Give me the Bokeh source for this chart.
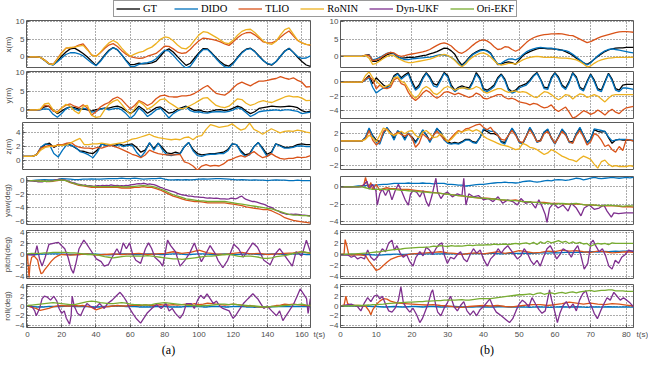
import numpy as np
from bokeh.plotting import figure
from bokeh.models import Range1d, FixedTicker, Legend, LegendItem
from bokeh.layouts import column, row
from bokeh.embed import file_html
from bokeh.resources import INLINE

# ---------------- data ----------------
NAMES = ["GT", "DIDO", "TLIO", "RoNIN", "Dyn-UKF", "Ori-EKF"]
COLORS = ["#000000", "#0072BD", "#D95319", "#EDB120", "#7E2F8E", "#77AC30"]
T_END_A = 165
T_END_B = 82
XTICKS_A = [0, 20, 40, 60, 80, 100, 120, 140, 160]
XTICKS_B = [0, 10, 20, 30, 40, 50, 60, 70, 80]
T_LABEL = "t(s)"

# (a) position, 2.5 s samples
GT_X_A = [0,0,0,-0.1,-0.9,-1.9,-2.2,-1.2,0.2,1.4,2.3,2.5,1.8,1.0,0.0,-1.2,-2.4,-1.1,0.5,1.9,2.7,2.0,0.6,-0.9,-2.2,-2.1,-1.8,-2.0,-1.9,-1.7,-1.2,0.2,1.7,2.3,1.4,0.1,-1.2,-2.4,-1.8,-0.3,1.2,2.4,2.3,1.1,-0.2,-1.4,-2.3,-2.6,-1.6,-0.1,1.3,2.2,2.5,1.6,0.3,-1.0,-2.0,-2.3,-1.3,0.2,1.7,2.5,1.3,-0.1,-1.3,-2.3,-2.7]
DIDO_X_A = [0,0,0,-0.1,-1.0,-2.0,-2.3,-1.4,-0.3,0.7,1.2,1.2,0.9,0.3,-0.7,-1.7,-2.5,-1.3,0.3,1.7,2.6,2.1,0.6,-1.1,-2.7,-2.7,-2.1,-1.8,-1.6,-1.3,-0.5,0.8,1.9,1.7,0.5,-0.9,-2.2,-3.2,-2.6,-0.9,0.9,2.1,2.1,0.9,-0.5,-1.8,-2.8,-3.1,-1.9,-0.3,1.1,2.1,2.4,1.5,0.1,-1.1,-1.9,-2.2,-1.3,0.2,1.6,2.4,1.3,0.1,-0.4,-0.3,0.3]
TLIO_X_A = [0,0,0,-0.1,-0.9,-1.9,-2.1,-0.5,1.2,2.5,2.6,2.8,3.4,3.7,2.2,0.5,0.2,1.2,2.4,3.4,3.8,3.0,1.8,0.8,0.1,-0.2,-0.4,-0.3,0.2,0.6,1.0,2.0,3.1,3.0,2.3,1.4,1.0,1.2,2.2,3.5,4.6,5.4,5.2,5.0,4.7,4.3,3.7,3.3,4.3,5.5,6.4,6.9,7.0,6.3,5.3,4.3,4.0,4.0,4.6,5.6,6.6,7.4,6.0,4.7,4.0,3.6,3.3]
RONIN_X_A = [0,0,0,-0.1,-0.9,-1.9,-2.2,-0.6,1.0,2.5,2.7,2.8,3.1,3.3,2.0,0.6,0.1,1.3,2.8,4.0,4.7,4.0,2.5,1.2,0.2,0.8,1.3,1.6,2.3,2.8,3.8,5.0,5.7,5.5,4.6,3.4,2.5,2.3,3.2,4.8,6.3,7.2,7.0,6.3,5.6,4.8,4.0,3.8,4.8,6.2,7.3,7.8,7.9,7.0,5.8,4.5,3.9,3.6,4.5,6.3,7.8,8.3,6.5,4.8,4.0,3.6,3.5]

GT_Y_A = [0,0,0,0.1,0.8,1.0,0.0,-1.0,-0.3,0.4,0.8,0.6,0.2,0.3,0.0,-0.3,0.1,0.3,0.5,0.5,0.8,1.0,0.6,-0.2,-1.0,-0.2,1.0,0.2,-0.9,-0.2,0.6,0.8,0.0,-0.9,-0.6,0.2,0.6,1.0,0.4,-0.2,0.0,-0.4,-0.6,-0.3,0.0,0.1,-0.2,0.0,0.5,1.0,0.6,-0.3,-1.0,-0.5,0.4,0.6,0.8,1.0,0.9,0.8,0.9,1.0,0.9,0.6,-0.2,-0.6,-0.3]
DIDO_Y_A = [0,0,0,0,0.3,0.2,-1.2,-2.0,-1.0,0.3,0.8,0.3,-0.2,0.5,0.2,-0.6,-0.4,0.2,0.4,0.0,0.3,0.5,0.0,-1.0,-2.3,-1.3,0.5,-0.4,-1.8,-1.0,0.0,0.5,-0.8,-2.2,-1.0,-0.3,0.2,0.8,-0.2,-0.6,-0.5,-0.8,-0.9,-0.6,-0.5,-0.5,-0.6,-0.4,0.0,0.6,0.2,-0.8,-1.8,-1.2,-0.5,-0.3,-0.2,-0.1,0.0,-0.2,0.0,0.0,-0.2,-0.4,-1.0,-0.8,-0.6]
TLIO_Y_A = [0,0,0,0.1,1.2,1.0,-0.3,-0.5,0.5,1.3,1.6,1.0,0.6,1.4,0.5,-1.4,-0.5,0.8,1.5,2.0,3.0,3.5,2.8,1.5,0.3,1.2,2.5,2.0,1.2,1.8,3.0,3.8,4.0,3.6,3.5,3.5,3.8,3.8,4.0,4.5,5.2,6.0,6.6,5.5,4.5,4.2,4.0,4.8,6.0,7.0,7.5,7.0,6.5,7.2,7.8,7.8,8.0,8.3,8.5,9.0,8.6,8.3,8.7,8.0,7.5,6.2,6.3]
RONIN_Y_A = [0,0,0,0.2,1.6,1.8,0.0,-0.8,0.5,1.5,1.0,-0.3,-1.0,1.0,1.2,-1.5,-2.0,-1.8,0.0,1.5,2.3,2.8,1.5,0.0,-1.2,0.3,2.3,1.5,0.2,0.8,1.8,2.8,3.0,2.0,1.3,0.5,0.3,0.6,1.2,1.8,2.5,3.2,3.3,2.2,1.2,0.8,0.6,1.0,2.0,3.0,2.8,1.8,1.2,1.6,2.2,2.5,2.2,2.0,2.5,3.0,3.5,3.8,3.5,3.6,3.2,2.5,2.6]

GT_Z_A = [0.6,0.6,0.6,0.8,1.8,2.3,2.5,1.9,2.3,2.2,2.4,2.2,1.8,1.4,1.3,1.1,1.0,1.5,2.4,2.2,2.3,2.2,2.4,2.2,2.3,2.4,1.9,1.2,1.5,2.5,1.7,2.5,1.8,1.1,1.0,1.2,1.0,2.0,2.6,1.6,1.0,0.8,0.9,1.0,1.0,1.1,1.2,1.6,2.4,2.3,1.4,0.8,1.0,2.0,2.6,1.8,0.9,1.2,2.4,2.2,1.9,1.9,2.0,2.3,2.4,2.3,2.3]
DIDO_Z_A = [0.6,0.6,0.6,0.8,1.9,2.4,2.3,1.0,0.5,1.5,2.3,2.2,1.9,1.3,1.1,0.8,0.4,1.2,2.4,2.1,2.3,2.0,2.3,2.0,2.2,2.2,1.2,0.5,1.3,2.6,1.5,2.5,1.5,0.8,0.7,0.9,0.9,2.0,2.6,1.4,0.7,0.6,0.8,0.9,0.9,1.0,1.0,1.4,2.4,2.3,1.2,0.6,0.8,2.0,2.6,1.6,0.6,1.0,2.4,2.1,1.8,1.8,1.9,2.1,2.1,2.0,2.0]
TLIO_Z_A = [0.6,0.6,0.6,0.8,1.8,2.0,2.2,2.0,2.3,2.3,2.5,2.6,2.1,1.9,1.8,1.8,1.7,1.9,1.8,2.0,2.2,2.0,1.8,1.5,1.2,0.9,0.7,0.4,0.8,1.5,1.2,1.0,0.9,0.8,0.8,0.8,0.9,-0.2,-0.4,-0.8,-1.4,-0.8,-0.6,-0.8,-0.7,-0.8,-0.5,0.0,0.2,0.5,0.7,0.5,0.9,1.3,0.8,0.4,0.6,1.0,0.6,0.3,0.2,0.3,0.3,0.5,0.4,0.5,0.7]
RONIN_Z_A = [0.6,0.6,0.6,0.8,1.5,1.9,2.0,2.1,2.2,2.2,2.3,2.6,2.9,3.2,2.3,2.3,2.4,2.4,2.5,2.4,2.3,2.4,2.5,2.6,2.8,3.1,3.2,3.4,3.6,3.8,3.5,3.3,3.2,3.1,3.0,3.1,3.0,3.3,3.4,3.0,3.5,3.6,4.5,5.2,5.0,4.8,4.9,5.0,5.3,4.8,4.4,4.6,5.4,4.5,4.2,3.8,4.2,4.6,4.3,4.0,4.2,4.3,4.2,4.4,4.3,4.1,4.0]

# (a) orientation
DIDO_YAW_A = [0,0,0.05,0.1,0.15,0.1,0.1,0.15,0.3,0.25,0.2,0.15,0.15,0.2,0.2,0.25,0.2,0.2,0.25,0.3,0.3,0.3,0.35,0.3,0.3,0.35,0.3,0.2,0.25,0.3,0.3,0.35,0.2,0.1,0.1,0.15,0.1,0.15,0.1,0.15,0.2,0.25,0.2,0.25,0.3,0.3,0.25,0.2,0.15,0.1,0.15,0.1,0.05,0.1,0.05,0.05,0.0,0.05,0.1,0.05,0.05,0.0,0.0,0.05,0.0,0.0,0.0]
TLIO_YAW_A = [0,0,-0.05,-0.1,-0.1,-0.15,-0.1,0.0,0.1,0.0,-0.3,-0.5,-0.7,-0.8,-0.9,-1.0,-1.0,-1.0,-1.0,-1.0,-1.0,-1.0,-1.1,-1.1,-1.1,-1.0,-1.0,-0.9,-1.0,-1.0,-1.2,-1.4,-1.7,-2.0,-2.3,-2.5,-2.7,-2.9,-3.0,-3.1,-3.1,-3.2,-3.3,-3.3,-3.3,-3.3,-3.3,-3.4,-3.5,-3.6,-3.7,-3.9,-4.0,-4.1,-4.2,-4.3,-4.3,-4.5,-4.8,-5.1,-5.5,-5.7,-5.9,-6.0,-6.1,-6.2,-6.3]
UKF_YAW_A = [0,0,-0.05,-0.1,-0.1,-0.2,-0.15,-0.2,-0.1,-0.15,-0.1,-0.05,
             0.0,0.1,0.15,0.2,0.15,0.1,0.05,-0.1,-0.2,-0.3,-0.35,-0.5,
             -0.55,-0.6,-0.7,-0.65,-0.8,-0.75,-0.8,-0.85,-0.8,-0.75,-0.8,-0.7,
             -0.75,-0.7,-0.75,-0.65,-0.7,-0.75,-0.7,-0.8,-0.75,-0.8,-0.7,-0.75,
             -0.65,-0.6,-0.55,-0.5,-0.45,-0.5,-0.4,-0.45,-0.55,-0.5,-0.55,-0.6,
             -0.7,-0.85,-1.0,-1.1,-1.25,-1.35,-1.45,-1.55,-1.65,-1.75,-1.9,-2.0,
             -2.1,-2.15,-2.2,-2.3,-2.3,-2.35,-2.4,-2.4,-2.45,-2.5,-2.5,-2.55,
             -2.6,-2.55,-2.6,-2.65,-2.6,-2.65,-2.7,-2.7,-2.7,-2.75,-2.7,-2.6,
             -2.65,-2.7,-2.6,-2.4,-2.3,-2.6,-2.8,-2.9,-3.0,-3.1,-3.1,-3.2,
             -3.3,-3.4,-3.5,-3.6,-3.8,-3.9,-4.0,-4.2,-4.4,-4.5,-4.7,-4.8,
             -4.9,-5.0,-5.0,-4.95,-5.0,-4.95,-5.0,-5.05,-5.1,-5.1,-5.15,-5.2,-5.2]
EKF_YAW_A = [0,0,-0.05,-0.1,-0.1,-0.1,-0.05,0.05,0.1,0.0,-0.25,-0.45,-0.6,-0.7,-0.8,-0.85,-0.9,-0.9,-0.9,-0.9,-0.9,-0.85,-0.9,-0.95,-0.9,-0.85,-0.8,-0.75,-0.8,-0.85,-1.0,-1.25,-1.5,-1.8,-2.1,-2.3,-2.5,-2.7,-2.8,-2.9,-3.0,-3.0,-3.1,-3.1,-3.1,-3.1,-3.1,-3.2,-3.3,-3.4,-3.5,-3.6,-3.7,-3.8,-3.9,-4.0,-4.1,-4.2,-4.4,-4.6,-4.8,-5.0,-5.1,-5.1,-5.2,-5.2,-5.3]

DIDO_PITCH_A = [0,0,0,0.05,0.05,0.1,0.1,0.1,0.05,0.05,0.0,0.0,0.0,0.05,0.1,0.1,0.05,0.0,0.0,-0.05,0.0,0.05,0.1,0.1,0.05,0.0,0.0,0.05,0.1,0.1,0.05,0.0,0.0,0.05,0.1,0.1,0.05,0.0,0.0,0.05,0.1,0.1,0.05,0.0,0.0,0.05,0.1,0.05,0.0,0.0,0.05,0.1,0.1,0.05,0.0,0.0,0.05,0.1,0.1,0.05,0.0,0.05,0.1,0.1,0.05,0.0,0.0]
TLIO_PITCH_A_T = [0,0.5,1.0,1.5,2.5,4,6,7,8,9,10,12,14,16,18,20,25,30,35,40,45,50,55,60,65,70,75,80,85,90,95,100,105,110,115,120,125,130,135,140,145,150,155,160,165]
TLIO_PITCH_A = [0,-2.0,-4.2,-2.0,-0.5,-0.3,-1.0,-2.5,-3.5,-3.3,-2.8,-2.0,-1.2,-0.6,-0.2,0.0,-0.1,0.0,0.1,-0.1,0.0,0.1,0.0,0.1,0.2,0.0,0.1,0.2,0.5,0.2,0.4,0.8,0.3,0.1,0.0,0.2,0.4,0.1,0.2,0.0,0.1,0.2,0.3,0.5,0.2]
UKF_PITCH_A_T = [0,4.3,5.6,7.1,8.6,10.4,12.6,16.3,18.1,20.0,21.8,23.7,25.5,26.8,28.3,30.1,32.9,34.7,37.5,40.2,43.0,44.8,47.2,49.4,52.2,54.0,55.9,57.7,59.6,61.4,63.2,66.0,68.8,70.6,72.5,74.3,77.1,78.9,81.7,83.5,86.3,89.0,91.8,94.6,97.3,99.2,101.4,103.8,106.5,109.3,111.1,113.9,116.7,120.3,123.1,125.8,128.6,131.4,134.1,137.8,141.5,144.2,147.0,150.7,154.4,156.6,159.9,162.6,164.9]
UKF_PITCH_A = [0,-0.1,1.6,-0.8,-2.1,-0.5,1.85,2.1,2.2,1.6,1.05,-0.5,-2.6,-3.4,-1.6,1.05,2.6,1.85,0.5,-0.8,-1.3,-2.1,-1.85,-0.5,1.05,0,2.1,1.05,2.1,0,-1.05,-1.6,1.05,2.1,1.05,-0.5,-1.3,-2.1,2.6,1.6,0.5,-2.1,-1.05,0.25,2.1,0.5,-1.3,0,1.6,0.25,-1.05,-2.4,-1.05,1.85,1.05,-0.5,0.8,2.1,1.3,-1.05,-1.85,0,1.05,-0.5,-2.1,0.5,-0.25,2.6,0.5]
EKF_PITCH_A = [0.1,0.2,0.2,0.2,0.3,0.3,0.4,0.4,0.4,0.4,0.3,0.3,0.2,0.1,0.0,0.0,0.0,-0.2,-0.4,-0.5,-0.6,-0.5,-0.4,-0.3,-0.3,-0.3,-0.3,-0.3,-0.2,-0.3,-0.4,-0.5,-0.6,-0.7,-0.8,-0.8,-0.9,-0.8,-0.7,-0.6,-0.5,-0.4,-0.3,-0.3,-0.2,-0.1,0.0,0.0,-0.1,-0.3,-0.4,-0.3,-0.3,-0.4,-0.5,-0.7,-0.7,-0.6,-0.4,-0.3,-0.2,0.0,0.2,0.3,0.5,0.4,0.3]

DIDO_ROLL_A = [0,-0.1,-0.2,-0.2,-0.2,-0.1,-0.1,-0.1,-0.1,0.0,0.0,-0.1,-0.1,-0.1,-0.1,-0.2,-0.2,-0.2,-0.1,-0.1,0.0,0.0,0.0,-0.1,-0.1,-0.1,-0.2,-0.2,-0.2,-0.2,-0.1,-0.1,-0.1,-0.2,-0.2,-0.2,-0.2,-0.1,-0.1,-0.1,-0.1,-0.2,-0.2,-0.1,-0.1,-0.1,-0.2,-0.2,-0.1,-0.1,-0.1,-0.2,-0.2,-0.3,-0.2,-0.2,-0.3,-0.2,-0.1,-0.1,-0.1,-0.1,-0.1,-0.1,-0.1,-0.1,-0.1]
TLIO_ROLL_A = [0,-0.3,-0.5,-0.9,-0.7,-0.5,-0.2,0.0,0.1,0.0,0.0,0.1,0.0,0.1,-0.1,-0.3,-0.8,-0.5,-0.2,-0.1,0.0,0.1,0.0,0.0,0.1,0.2,0.1,0.2,0.2,0.1,0.2,0.3,0.2,0.2,0.3,0.2,0.3,0.4,0.3,0.5,0.3,0.4,0.6,0.5,0.4,0.3,0.2,0.3,0.4,0.3,0.2,0.0,0.1,-0.1,-0.2,-0.3,-0.3,-0.1,0.1,0.2,0.4,0.3,0.4,0.3,0.2,0.1,0.0]
UKF_ROLL_A_T = [0.1,2.5,4.3,5.2,7.1,8.6,9.9,11.7,13.5,15.4,17.2,18.5,20.0,21.5,22.7,24.6,25.5,26.1,27.3,29.2,31.0,32.9,34.7,36.6,39.3,42.1,44.8,46.7,49.4,52.2,54.0,55.9,57.7,59.6,61.4,63.3,66.0,67.9,69.7,72.5,75.2,78.0,80.8,82.6,84.4,86.3,89.0,90.9,92.7,95.5,97.3,99.2,101.0,102.9,104.7,106.5,108.4,110.2,112.1,113.9,117.6,119.8,121.3,123.1,125.9,128.6,131.4,134.2,136.0,137.8,139.7,142.4,145.2,147.0,148.9,150.7,152.6,155.3,157.2,159.0,160.9,162.7,163.6,164.9]
UKF_ROLL_A = [0,0,-1.0,-2.0,-0.5,1.5,2.0,1.8,1.2,2.0,1.0,-0.5,-1.5,-1.0,-2.5,-3.7,-2.0,2.0,0,-1.5,-2.0,-0.5,0.5,0,-0.5,0.5,-0.5,0.5,1.2,2.2,2.8,2.0,1.0,-0.5,-1.5,-2.5,-3.5,-2.5,-1.5,-0.5,0.3,-0.5,0.5,-1.0,-0.5,-1.5,-2.5,-1.5,0.5,0.5,-0.5,1.2,2.2,1.5,2.5,1.5,0.5,1.0,0,-0.5,-1.0,-2.5,-2.0,-1.0,0.5,1.5,2.5,1.5,0.5,-0.5,0,-1.0,-2.0,-1.0,-3.0,-2.0,-1.0,0.5,2.0,3.5,2.5,1.5,-1.5,1.5]
EKF_ROLL_A = [0.1,0.2,0.3,0.4,0.5,0.6,0.7,0.6,0.5,0.4,0.3,0.3,0.5,0.7,0.9,1.0,0.9,0.7,0.6,0.5,0.5,0.6,0.7,0.6,0.4,0.3,0.3,0.2,0.2,0.3,0.5,0.6,0.7,0.6,0.5,0.4,0.3,0.2,0.1,0.1,0.0,0.1,0.1,0.2,0.3,0.4,0.4,0.3,0.4,0.3,0.2,0.1,0.0,0.0,-0.1,-0.2,-0.2,-0.1,-0.1,0.0,0.1,0.2,0.3,0.3,0.4,0.2,0.1]

# (b) position, 1 s samples
GT_X_B = [0,0,0,0,0,0,0,0.3,0.5,-1.4,-1.4,-1.0,-0.2,0.5,0.8,0.8,-0.2,-0.5,-0.4,-0.3,-0.3,-0.2,0.0,0.2,0.4,0.7,1.0,1.4,1.9,2.4,2.3,1.6,0.6,-1.2,-2.5,-1.5,-0.3,0.7,1.3,1.8,2.0,1.7,1.0,-0.8,-2.4,-2.2,-1.8,-1.6,-1.8,-2.3,-1.0,0.2,0.9,1.4,1.8,2.2,2.4,2.3,2.2,2.2,2.1,2.0,1.8,1.4,0.9,0.3,-0.5,-1.2,-1.9,-2.3,-1.7,-0.8,0.0,0.7,1.4,1.9,2.2,2.4,2.5,2.5,2.6,2.6,2.6]
DIDO_X_B = [0,0,0,0,0,0,0,0.3,0.4,-1.0,-0.7,-0.3,0.3,0.9,1.2,0.8,0.0,-0.6,-0.9,-0.9,-0.7,-0.6,-0.5,-0.4,-0.3,-0.2,0.0,0.3,0.5,0.4,0.2,-0.3,-1.0,-2.0,-2.8,-1.8,-0.5,0.5,1.1,1.6,1.8,1.5,0.8,-0.8,-2.2,-2.0,-1.3,-0.8,-0.7,-1.0,-0.5,0.5,1.3,1.8,2.2,2.5,2.6,2.5,2.4,2.4,2.2,1.9,1.8,1.7,1.3,0.6,-0.2,-1.0,-1.8,-2.5,-1.9,-0.8,0.2,1.0,1.6,2.0,2.2,2.0,1.8,1.6,1.4,1.2,1.0]
TLIO_X_B = [0,0,0,0,0,0,0,0.4,0.3,-1.2,-1.0,-0.6,0.2,0.8,1.2,1.0,0.3,0.0,0.2,0.5,0.7,0.9,1.1,1.3,1.6,2.0,2.6,3.2,3.7,3.9,3.6,3.0,2.0,1.2,0.9,1.5,2.3,3.2,4.0,4.6,4.8,4.5,3.8,2.8,2.0,2.2,2.8,2.7,2.0,1.5,2.0,3.0,4.0,4.8,5.4,5.8,6.1,6.3,6.4,6.5,6.5,6.6,6.5,6.3,6.1,6.0,5.5,5.0,4.5,4.0,4.3,4.8,5.3,5.7,6.0,6.3,6.6,6.9,7.1,7.2,7.2,7.1,7.0]
RONIN_X_B = [0,0,0,0,0,0,0,0.3,-0.5,-2.3,-2.0,-1.3,-0.6,0.0,0.4,0.2,-0.5,-1.0,-1.5,-1.8,-1.8,-1.6,-1.4,-1.2,-1.0,-0.8,-0.4,0.0,0.4,0.6,0.3,-0.3,-1.2,-2.3,-3.0,-2.2,-1.0,-0.2,0.4,0.9,1.0,0.6,-0.2,-1.2,-2.2,-2.5,-2.3,-2.0,-2.0,-2.2,-1.6,-1.0,-0.6,-0.3,-0.1,0.0,-0.1,-0.3,-0.3,-0.2,-0.3,-0.4,-0.5,-0.5,-0.6,-0.8,-1.0,-1.5,-2.2,-3.0,-2.8,-2.0,-1.4,-1.0,-0.7,-0.5,-0.4,-0.3,-0.3,-0.3,-0.3,-0.2,-0.3]

GT_Y_B = [-0.1,-0.1,-0.1,-0.1,-0.1,-0.1,-0.1,0.3,0.8,-0.3,0.5,0.0,-0.5,-0.8,-0.3,0.8,1.1,0.5,0.9,1.2,0.0,-1.0,-0.5,0.5,1.2,0.6,-0.3,-0.5,0.3,1.2,0.8,-0.5,-1.2,-0.8,-0.6,-0.8,-0.9,0.0,1.2,0.5,-1.0,-1.2,-0.9,-0.5,0.5,1.0,0.3,-1.0,-1.4,-1.2,-0.7,-0.5,-0.3,0.2,0.8,1.2,0.3,-0.8,-0.9,0.5,1.2,0.6,-0.5,-0.9,0.0,1.2,0.6,-0.8,-1.1,0.0,1.0,0.2,-1.0,-1.2,0.0,1.1,0.3,-1.0,-1.2,-0.5,-0.4,-0.4,-0.4]
DIDO_Y_B = [-0.1,-0.1,-0.1,-0.1,-0.1,-0.1,-0.1,0.2,0.5,-0.8,-1.6,-1.2,-0.9,-0.9,-0.5,0.6,1.0,0.3,0.7,1.0,-0.3,-1.2,-0.8,0.3,1.1,0.4,-0.6,-0.8,0.1,1.1,0.6,-0.8,-1.4,-1.0,-0.8,-1.0,-1.1,-0.2,1.0,0.3,-1.2,-1.4,-1.1,-0.7,0.3,0.9,0.1,-1.2,-1.6,-1.4,-0.9,-0.7,-0.5,0.0,0.7,1.1,0.2,-1.0,-1.1,0.3,1.1,0.4,-0.7,-1.1,-0.2,1.1,0.4,-1.0,-1.3,-0.2,0.9,0.0,-1.2,-1.4,-0.2,1.0,0.1,-1.2,-1.4,-0.9,-0.9,-1.0,-1.1]
TLIO_Y_B = [-0.1,-0.1,-0.1,-0.1,-0.1,-0.1,-0.1,0.3,0.6,0.3,-1.0,-0.5,-0.9,-1.0,-0.8,0.2,0.5,-0.3,-0.5,-1.5,-2.2,-2.6,-2.2,-1.6,-1.2,-1.5,-2.0,-2.3,-2.0,-1.5,-1.4,-1.6,-1.8,-1.6,-1.8,-2.0,-2.2,-2.0,-1.6,-1.8,-2.3,-2.4,-2.2,-2.0,-1.8,-1.8,-2.2,-2.4,-2.3,-2.5,-2.8,-2.9,-3.0,-3.2,-3.0,-3.1,-3.4,-3.6,-3.5,-3.2,-3.8,-4.1,-3.8,-3.5,-4.2,-5.0,-4.8,-4.4,-4.0,-4.2,-4.5,-4.3,-3.9,-4.2,-4.6,-4.1,-3.8,-4.2,-4.4,-3.9,-3.6,-3.5,-3.4]
RONIN_Y_B = [-0.1,-0.1,-0.1,-0.1,-0.1,-0.1,-0.1,0.8,1.3,0.5,0.0,-0.4,-0.8,-0.6,-0.4,0.5,0.6,0.0,-0.2,-1.0,-1.8,-2.3,-1.8,-1.0,-0.7,-1.0,-1.6,-1.8,-1.4,-0.9,-0.7,-0.9,-1.2,-1.0,-0.9,-0.9,-1.1,-1.0,-0.7,-0.9,-1.4,-1.6,-1.4,-1.2,-1.0,-1.0,-1.3,-1.5,-1.4,-1.3,-1.5,-1.4,-1.5,-1.8,-2.1,-2.2,-1.8,-1.4,-1.5,-1.8,-2.2,-2.5,-2.2,-1.8,-1.9,-2.4,-2.0,-1.7,-1.8,-2.2,-2.0,-1.8,-2.0,-2.4,-2.8,-2.3,-1.9,-1.8,-1.8,-1.8,-1.8,-1.8,-1.8]

GT_Z_B = [1.1,1.1,1.1,1.1,1.1,1.1,1.1,1.5,2.6,1.8,1.2,1.0,2.0,2.7,2.2,1.4,2.3,2.1,1.4,2.0,1.6,1.0,1.6,2.4,1.9,1.1,1.8,2.6,2.2,1.4,1.0,0.8,0.9,0.8,1.0,1.3,1.3,1.0,0.9,1.5,2.5,2.3,2.0,2.0,1.8,1.0,0.9,1.8,2.6,2.0,1.0,0.8,1.7,2.7,2.0,1.0,1.2,2.2,2.5,1.5,0.8,1.6,2.5,2.0,1.0,1.0,2.0,2.7,1.8,0.9,1.3,2.5,2.3,2.2,2.3,1.5,0.8,1.2,1.3,1.2,1.2,1.2,1.1]
DIDO_Z_B = [1.1,1.1,1.1,1.1,1.1,1.1,1.1,1.6,2.7,1.7,0.9,0.7,2.0,2.8,2.1,1.2,2.4,2.0,1.2,2.1,1.4,0.8,1.6,2.5,1.8,0.9,1.8,2.7,2.1,1.2,0.8,0.7,0.8,0.7,0.9,1.2,1.2,0.9,0.8,1.5,2.6,2.5,2.3,2.3,1.9,0.9,0.7,1.8,2.7,2.0,0.9,0.7,1.7,2.8,2.0,0.9,1.1,2.2,2.6,1.4,0.7,1.6,2.6,2.0,0.9,0.9,2.0,2.8,1.8,0.8,1.3,2.6,2.5,2.4,2.3,1.6,1.1,1.2,1.3,1.3,1.3,1.2,1.2]
TLIO_Z_B = [1.1,1.1,1.1,1.1,1.1,1.1,1.1,1.4,2.4,1.2,0.6,1.0,2.3,2.6,2.0,1.8,2.2,1.9,1.7,2.0,1.5,0.3,0.8,2.0,1.6,1.2,1.8,2.3,1.8,1.3,1.0,1.5,2.0,2.4,2.2,2.6,2.7,2.9,3.1,3.2,2.8,2.5,2.8,2.2,1.8,1.3,1.2,1.8,2.4,1.8,1.0,0.9,1.7,2.5,1.8,1.0,1.1,2.0,2.3,1.5,0.8,1.5,2.3,1.8,1.0,0.8,1.8,2.4,1.6,0.6,1.0,2.0,1.8,1.2,0.4,0.6,0.0,-0.3,0.4,-0.1,1.3,1.2,1.1]
RONIN_Z_B = [1.1,1.1,1.1,1.1,1.1,1.1,1.1,1.3,1.8,1.5,1.0,1.8,2.7,2.5,2.0,1.8,2.0,2.3,2.0,2.3,2.4,1.8,1.5,2.2,2.4,2.0,1.5,1.6,2.0,1.6,1.0,1.3,1.8,2.3,2.2,2.4,2.5,2.3,2.5,2.3,1.7,1.4,1.2,1.0,0.8,0.6,0.5,0.4,0.2,0.0,0.1,0.8,0.6,0.3,0.2,0.0,-0.3,-0.6,-0.4,0.0,-0.2,-0.5,-0.8,-1.0,-1.2,-1.3,-1.5,-1.1,-0.8,-1.0,-1.2,-1.8,-2.3,-1.5,-1.3,-1.8,-2.1,-2.0,-2.1,-2.1,-2.1,-2.0,-2.1]

# (b) orientation
DIDO_YAW_B = [0,0,0,0,0.05,0.1,0.1,0.15,0.2,0.2,0.2,0.25,0.3,0.3,0.35,0.4,0.4,0.4,0.4,0.45,0.4,0.4,0.4,0.45,0.4,0.4,0.35,0.4,0.4,0.4,0.3,0.3,0.25,0.2,0.2,0.1,0.15,0.2,0.25,0.3,0.3,0.35,0.4,0.45,0.5,0.5,0.55,0.5,0.5,0.45,0.5,0.6,0.65,0.7,0.6,0.55,0.6,0.7,0.75,0.7,0.8,0.85,0.8,0.75,0.8,0.9,1.0,0.95,0.8,0.9,1.0,1.1,1.0,0.95,1.0,1.05,1.1,1.05,1.0,1.05,1.1,1.05,1.1]
TLIO_YAW_B_T = [0,5,6.5,7,7.5,8,8.5,9,10,11,12,13,14,15,17,19,21,23,25,27,29,31,33,35,37,39,41,43,45,47,49,51,53,55,57,59,61,63,65,67,69,71,73,75,77,79,81,82]
TLIO_YAW_B = [0,0,0.2,1.1,0.3,0.0,0.5,-0.3,0.3,-0.4,-0.2,-0.1,-0.2,-0.2,-0.3,-0.3,-0.4,-0.5,-0.6,-0.7,-0.8,-0.9,-1.0,-1.1,-1.2,-1.3,-1.3,-1.4,-1.5,-1.6,-1.5,-1.7,-1.8,-1.8,-1.8,-1.9,-1.9,-2.0,-2.0,-2.0,-2.1,-2.1,-2.2,-2.2,-2.2,-2.3,-2.3,-2.35]
UKF_YAW_B_T = [0,5.7,6.7,7.4,8,8.9,9.9,10.3,11,11.7,12.6,13.5,14.4,15.3,16.2,17.2,18.1,19,19.6,20.3,21.3,22.2,23.1,24,24.7,25.6,26.7,27.2,28.1,29,29.9,31.3,32.7,34,34.5,35.1,35.9,37.2,38.6,40,41.3,42.7,44.1,45.4,46.8,48.2,49.5,50.5,51.8,53.2,54.6,55.5,56.4,57.3,57.8,58.5,59.6,60.9,62.3,63.7,64.6,66,67.3,68.2,69.6,71,72.4,73.7,74.6,75.8,76.5,77.8,79.7,82]
UKF_YAW_B = [0,0,0.3,0.65,-0.25,0.3,-0.45,-2.1,-0.8,-0.25,-1.0,-0.25,-1.5,-0.45,0.3,-0.6,-1.5,-2.1,-0.8,-0.45,-0.6,-1.15,-0.45,-1.7,-2.25,-1.0,1.0,-0.6,-1.35,-0.8,-0.6,-1.15,-0.8,-1.0,1.0,-2.1,-0.8,-1.15,-1.0,-1.5,-1.35,-1.7,-1.15,-1.9,-1.5,-1.7,-2.1,-1.35,-1.9,-1.7,-2.45,-1.5,-2.25,-3.2,-4.1,-2.45,-1.9,-2.45,-2.1,-2.8,-1.9,-2.45,-3.35,-2.45,-2.1,-2.6,-2.45,-2.1,-2.8,-3.5,-3.0,-3.1,-3.0,-3.0]
EKF_YAW_B = [0,0,0,0,0,0,0,-0.1,-0.2,-0.3,-0.3,-0.25,-0.3,-0.35,-0.3,-0.3,-0.35,-0.4,-0.4,-0.45,-0.5,-0.5,-0.55,-0.6,-0.6,-0.65,-0.7,-0.7,-0.75,-0.8,-0.85,-0.9,-0.95,-1.0,-1.0,-1.1,-1.15,-1.2,-1.25,-1.3,-1.3,-1.35,-1.4,-1.4,-1.45,-1.5,-1.5,-1.55,-1.6,-1.6,-1.65,-1.7,-1.7,-1.75,-1.8,-1.8,-1.85,-1.9,-1.9,-1.95,-2.0,-1.95,-1.9,-1.95,-2.0,-1.95,-1.9,-2.0,-2.05,-2.1,-2.05,-2.1,-2.15,-2.2,-2.15,-2.1,-2.15,-2.2,-2.2,-2.25,-2.2,-2.2,-2.2]

DIDO_PITCH_B = [0,0,0,0,0,0,0,0,0,-0.05,-0.1,-0.1,-0.05,0,0,0.05,0.05,0,0,0.05,0.1,0.1,0.05,0.05,0.1,0.1,0.05,0.1,0.1,0.15,0.1,0.1,0.15,0.1,0.05,0.1,0.1,0.15,0.2,0.15,0.1,0.15,0.2,0.2,0.15,0.1,0.15,0.2,0.25,0.2,0.2,0.25,0.2,0.15,0.2,0.25,0.3,0.3,0.25,0.3,0.35,0.3,0.35,0.4,0.4,0.35,0.4,0.45,0.4,0.45,0.5,0.5,0.45,0.5,0.55,0.5,0.55,0.6,0.55,0.6,0.6,0.6,0.6]
TLIO_PITCH_B_T = [0,1,1.3,1.8,2.3,3,5,7,8,9,10,11,12,13,14,16,18,20,22,24,26,28,30,32,34,36,38,40,42,44,46,48,50,52,54,56,58,60,62,64,66,68,70,72,74,76,78,80,82]
TLIO_PITCH_B = [0,0.1,2.7,1.5,0.0,-0.1,0.0,-0.2,-1.2,-2.0,-2.9,-2.6,-2.0,-1.4,-0.9,-0.4,-0.1,0.1,0.2,0.3,0.4,0.5,0.3,0.2,0.0,0.2,0.3,0.1,0.3,0.5,0.2,0.4,0.7,0.5,0.3,0.4,0.6,0.5,0.8,0.6,0.7,0.5,0.4,0.6,0.5,0.3,0.4,0.5,0.4]
UKF_PITCH_B_T = [0,2.1,3,3.9,4.8,5.7,6.7,7.6,8.5,9.4,10.3,11.7,12.6,13.5,14.4,15.1,15.8,16.7,17.6,18.5,19.4,20.3,21.1,22.2,23.1,24,24.9,25.8,26.7,27.6,28.4,29,29.9,30.8,31.8,32.7,33.6,34.5,35.4,36.3,37.2,38.1,39.1,40,41.1,42,43.2,44.1,45,45.9,46.8,47.7,48.6,49.5,50.5,51.4,52.3,53.2,54.1,55,55.9,56.8,57.8,58.7,59.6,60.5,61.4,62.3,63.7,64.6,65.5,66.4,67.3,68.2,69.2,70.1,70.7,71.4,72.4,73.3,74.2,75.1,76,76.9,77.8,78.7,79.7,80.6,82]
UKF_PITCH_B = [-0.1,-0.1,-0.5,-0.25,-0.8,-0.5,-0.8,0.8,-0.5,-1.05,-0.5,1.05,0.5,2.1,2.6,0.8,1.6,0.25,-0.5,0,-1.3,-2.1,-0.5,0.5,-0.25,1.3,0.8,0,1.05,1.85,2.1,0,-1.6,-0.5,-0.8,0,0.5,-0.8,-1.3,0,1.05,0.25,0.8,-0.8,-2.1,-0.8,0,1.05,0.25,1.05,1.6,0.8,0,-0.8,-0.25,1.05,0.25,-1.05,-1.85,-1.05,-2.1,-0.5,1.05,1.6,0.5,-0.8,0,1.05,0.5,-0.5,0.8,1.6,-0.25,-2.65,-1.6,2.1,2.6,1.6,0.5,1.05,-0.25,-2.1,-2.65,-1.05,-1.6,-0.5,0,0.8,0.5]
EKF_PITCH_B = [0,0,0.05,0.1,0.1,0.15,0.2,0.25,0.3,0.4,0.45,0.5,0.6,0.7,0.8,0.9,0.95,1.0,1.1,1.15,1.2,1.25,1.3,1.3,1.35,1.4,1.5,1.45,1.6,1.5,1.45,1.6,1.5,1.55,1.5,1.6,1.7,1.6,1.7,1.75,1.7,1.8,1.75,1.9,1.8,1.85,1.9,1.8,1.9,2.0,1.9,2.0,2.1,1.9,2.2,1.8,2.3,2.0,2.4,2.1,2.3,2.5,2.2,2.4,2.0,2.3,2.0,2.2,1.9,2.0,1.5,1.8,2.0,1.9,2.0,1.8,2.1,2.0,2.0,2.0,2.0,2.0,2.0]

DIDO_ROLL_B = [0,0,0,0,0,0,0,0,-0.05,-0.1,-0.1,-0.15,-0.2,-0.2,-0.15,-0.1,-0.15,-0.2,-0.2,-0.15,-0.1,-0.1,-0.15,-0.2,-0.15,-0.1,-0.1,-0.15,-0.2,-0.2,-0.15,-0.1,-0.1,-0.15,-0.2,-0.2,-0.25,-0.2,-0.15,-0.15,-0.2,-0.2,-0.25,-0.2,-0.15,-0.1,-0.15,-0.2,-0.25,-0.2,-0.15,-0.2,-0.25,-0.3,-0.25,-0.2,-0.2,-0.25,-0.3,-0.3,-0.25,-0.2,-0.15,-0.2,-0.25,-0.2,-0.15,-0.2,-0.25,-0.3,-0.25,-0.2,-0.2,-0.25,-0.2,-0.15,-0.2,-0.2,-0.25,-0.2,-0.2,-0.25,-0.2]
TLIO_ROLL_B_T = [0,1,1.5,2,3,5,7,8,8.5,9,10,11,12,13,14,16,18,20,22,24,26,28,30,32,34,36,38,40,42,44,46,48,50,52,54,56,58,60,62,64,66,68,70,72,74,76,78,80,82]
TLIO_ROLL_B = [0,0.2,2.0,0.5,0.1,0.1,0.0,-1.0,-1.8,-0.8,0.3,1.0,1.5,1.4,1.0,0.6,0.5,0.4,0.3,0.2,0.3,0.1,0.0,-0.2,-0.3,-0.1,0.0,0.1,0.0,0.1,-0.1,-0.2,0.0,0.2,0.3,0.3,0.1,0.3,0.5,0.8,0.6,0.4,0.6,0.4,0.3,0.5,0.4,0.2,0.0]
UKF_ROLL_B_T = [0,3,4.8,5.7,6.7,7.6,8.5,9.4,10.3,11,11.7,12.6,13.5,14.4,15.3,16.2,16.9,17.6,18.5,19.4,20.3,21.3,22.2,22.9,23.5,24.5,25.4,25.8,26.6,27.2,28.1,29,29.9,30.8,31.8,32.7,33.6,34.5,35.4,36.3,37.2,38.1,39.1,40,40.9,41.8,42.7,43.6,45,46.4,47.3,48.2,49.1,50,50.9,51.8,52.7,53.6,54.6,55.5,56.4,57.3,58.5,59.1,60,60.7,61.4,62.3,63.2,64.1,65.1,66,66.9,67.8,68.7,69.6,70.3,71,71.9,72.8,73.7,74.6,75.5,76.5,77.4,78.3,79.2,80.1,81,82]
UKF_ROLL_B = [0,0.4,-0.15,-1.0,0.65,1.7,0.9,2.0,2.25,1.45,2.0,0.4,-1.0,-1.25,-0.45,1.2,3.9,0.65,-0.45,-1.25,-0.45,-1.8,-3.4,-2.6,-1.5,0.4,2.8,3.3,0.4,-1.25,-2.0,-0.45,0.65,2.0,-0.15,-1.0,0.1,0.9,-1.0,-1.8,-1.0,-2.0,-0.7,-0.15,0.65,1.45,-0.15,-1.25,-2.0,-2.85,-3.4,-2.6,-1.0,0.4,1.2,0.65,-0.15,1.7,0.4,-0.7,-1.5,-1.0,3.3,1.2,-1.25,-3.4,-1.5,0.1,0.9,-0.45,0.4,-1.0,1.2,2.5,3.1,0.9,-0.15,-1.5,-2.6,-1.0,0.4,1.7,1.2,2.8,2.0,1.2,1.7,1.2,0.65,-0.15]
EKF_ROLL_B = [0,0,0,0.05,0.1,0.1,0.1,0.15,0.2,0.3,0.3,0.35,0.4,0.5,0.55,0.6,0.65,0.7,0.75,0.8,0.8,0.85,0.9,0.9,1.0,1.0,1.05,1.1,1.1,1.2,1.2,1.2,1.2,1.25,1.3,1.2,1.2,1.3,1.4,1.5,1.5,1.5,1.5,1.6,1.7,1.8,1.9,2.0,2.1,2.2,2.3,2.3,2.4,2.5,2.3,2.6,2.7,2.4,2.6,2.7,2.5,2.7,2.8,2.6,2.8,2.9,2.7,2.9,3.0,3.1,3.2,3.0,3.1,3.2,3.2,3.3,3.3,3.1,3.1,3.1,3.0,3.0,3.0]

# ---------------- panel definitions ----------------
def g(vals, tend):
    return np.linspace(0, tend, len(vals))

def pos_series(gt, dido, tlio, ronin, tend):
    return [(0, g(gt, tend), gt), (1, g(dido, tend), dido), (2, g(tlio, tend), tlio), (3, g(ronin, tend), ronin)]

PANELS_A = [
    ("x(m)", (-3.3, 10.4), [0, 5, 10], pos_series(GT_X_A, DIDO_X_A, TLIO_X_A, RONIN_X_A, T_END_A)),
    ("y(m)", (-2.6, 10.4), [0, 5, 10], pos_series(GT_Y_A, DIDO_Y_A, TLIO_Y_A, RONIN_Y_A, T_END_A)),
    ("z(m)", (-1.45, 5.5), [0, 2, 4], pos_series(GT_Z_A, DIDO_Z_A, TLIO_Z_A, RONIN_Z_A, T_END_A)),
    ("yaw(deg)", (-6.5, 0.6), [-6, -4, -2, 0], [
        (1, g(DIDO_YAW_A, T_END_A), DIDO_YAW_A), (2, g(TLIO_YAW_A, T_END_A), TLIO_YAW_A),
        (4, g(UKF_YAW_A, T_END_A), UKF_YAW_A), (5, g(EKF_YAW_A, T_END_A), EKF_YAW_A)]),
    ("pitch(deg)", (-4.35, 4.35), [-4, -2, 0, 2, 4], [
        (1, g(DIDO_PITCH_A, T_END_A), DIDO_PITCH_A), (2, TLIO_PITCH_A_T, TLIO_PITCH_A),
        (4, UKF_PITCH_A_T, UKF_PITCH_A), (5, g(EKF_PITCH_A, T_END_A), EKF_PITCH_A)]),
    ("roll(deg)", (-4.4, 4.4), [-4, -2, 0, 2, 4], [
        (1, g(DIDO_ROLL_A, T_END_A), DIDO_ROLL_A), (2, g(TLIO_ROLL_A, T_END_A), TLIO_ROLL_A),
        (4, UKF_ROLL_A_T, UKF_ROLL_A), (5, g(EKF_ROLL_A, T_END_A), EKF_ROLL_A)]),
]
PANELS_B = [
    (None, (-3.5, 10.4), [0, 5, 10], pos_series(GT_X_B, DIDO_X_B, TLIO_X_B, RONIN_X_B, T_END_B)),
    (None, (-5.2, 1.35), [-4, -2, 0], pos_series(GT_Y_B, DIDO_Y_B, TLIO_Y_B, RONIN_Y_B, T_END_B)),
    (None, (-2.6, 3.4), [-2, 0, 2], pos_series(GT_Z_B, DIDO_Z_B, TLIO_Z_B, RONIN_Z_B, T_END_B)),
    (None, (-4.35, 1.2), [-4, -2, 0], [
        (1, g(DIDO_YAW_B, T_END_B), DIDO_YAW_B), (2, TLIO_YAW_B_T, TLIO_YAW_B),
        (4, UKF_YAW_B_T, UKF_YAW_B), (5, g(EKF_YAW_B, T_END_B), EKF_YAW_B)]),
    (None, (-4.35, 4.35), [-4, -2, 0, 2, 4], [
        (1, g(DIDO_PITCH_B, T_END_B), DIDO_PITCH_B), (2, TLIO_PITCH_B_T, TLIO_PITCH_B),
        (4, UKF_PITCH_B_T, UKF_PITCH_B), (5, g(EKF_PITCH_B, T_END_B), EKF_PITCH_B)]),
    (None, (-4.4, 4.4), [-4, -2, 0, 2, 4], [
        (1, g(DIDO_ROLL_B, T_END_B), DIDO_ROLL_B), (2, TLIO_ROLL_B_T, TLIO_ROLL_B),
        (4, UKF_ROLL_B_T, UKF_ROLL_B), (5, g(EKF_ROLL_B, T_END_B), EKF_ROLL_B)]),
]

# ---------------- layout / style ----------------
FONT = "Liberation Sans"
SERIF = "Liberation Serif"
TXT = "#4d4d4d"
FRAME_H = 48
TOP_B = [3, 3, 3, 6, 4, 3]
BOT_B = [0, 0, 0, 2, 3, 27]
LEG_H = 17
LB_A, FW_A, RB_A = 22, 288, 16
LB_B, FW_B, RB_B = 13, 294, 15
NBSP = "\u00a0"


def make_panel(spec, idx, xr, xticks, lb, fw, rb, caption):
    ylabel, yr, yticks, series = spec
    last = idx == len(TOP_B) - 1
    tb, bb = TOP_B[idx], BOT_B[idx]
    p = figure(width=lb + fw + rb, height=tb + FRAME_H + bb,
               x_range=Range1d(*xr), y_range=Range1d(*yr),
               output_backend="svg", toolbar_location=None,
               min_border_left=lb, min_border_right=rb,
               min_border_top=tb, min_border_bottom=bb)
    p.outline_line_color = "#5a5a5a"
    p.outline_line_width = 1
    p.yaxis.ticker = FixedTicker(ticks=yticks)
    p.xgrid.ticker = FixedTicker(ticks=xticks)
    p.ygrid.ticker = FixedTicker(ticks=yticks)
    p.grid.grid_line_color = "#202020"
    p.grid.grid_line_alpha = 0.75
    p.grid.grid_line_dash = "1 2"
    p.grid.grid_line_width = 1
    p.axis.axis_line_color = None
    p.axis.major_tick_in = 3
    p.axis.major_tick_out = 0
    p.axis.major_tick_line_color = "#5a5a5a"
    p.axis.minor_tick_line_color = None
    p.axis.major_label_text_font = FONT
    p.axis.major_label_text_font_size = "8px"
    p.axis.major_label_text_color = TXT
    p.axis.major_label_standoff = 2
    p.yaxis.axis_label_text_font = FONT
    p.yaxis.axis_label_text_font_size = "8px"
    p.yaxis.axis_label_text_font_style = "normal"
    p.yaxis.axis_label_text_color = TXT
    p.yaxis.axis_label_standoff = 0
    if ylabel:
        p.yaxis.axis_label = ylabel
    if last:
        # the time-axis name sits just right of the frame, as the last tick label
        end = xr[1]
        p.xaxis.ticker = FixedTicker(ticks=xticks + [end])
        p.xaxis.major_label_overrides = {end: NBSP * 8 + T_LABEL}
        p.xaxis.axis_label = caption
        p.xaxis.axis_label_text_font = SERIF
        p.xaxis.axis_label_text_font_size = "12px"
        p.xaxis.axis_label_text_font_style = "normal"
        p.xaxis.axis_label_text_color = "#000000"
        p.xaxis.axis_label_standoff = 1
    else:
        p.xaxis.ticker = FixedTicker(ticks=xticks)
        p.xaxis.visible = False
    for ci, t, v in series:
        p.line(t, v, line_color=COLORS[ci], line_width=1.3)
    return p


figs_a = [make_panel(s, i, (-0.5, T_END_A), XTICKS_A, LB_A, FW_A, RB_A, "(a)") for i, s in enumerate(PANELS_A)]
figs_b = [make_panel(s, i, (0, T_END_B), XTICKS_B, LB_B, FW_B, RB_B, "(b)") for i, s in enumerate(PANELS_B)]

# legend strip (dummy renderers lie outside the visible range)
lg = figure(width=LB_A + FW_A + RB_A + LB_B + FW_B + RB_B, height=LEG_H,
            x_range=Range1d(0, 1), y_range=Range1d(0, 1),
            output_backend="svg", toolbar_location=None, min_border=0)
lg.outline_line_color = None
lg.axis.visible = False
lg.grid.visible = False
items = []
for name, c in zip(NAMES, COLORS):
    r = lg.line(x=[-3, -2], y=[-3, -2], line_color=c, line_width=1.3)
    items.append(LegendItem(label=name, renderers=[r]))
leg = Legend(items=items, orientation="horizontal", location=(113, 0),
             label_text_font=SERIF, label_text_font_size="10.5px", label_text_color="#000000",
             glyph_width=24, glyph_height=11, label_height=11, label_standoff=3,
             spacing=11, padding=2, margin=0,
             border_line_color="#333333", border_line_width=1, background_fill_alpha=1.0)
lg.add_layout(leg)

layout = column(lg, *[row(a, b) for a, b in zip(figs_a, figs_b)])

open("out.html", "w").write(file_html(layout, INLINE))
